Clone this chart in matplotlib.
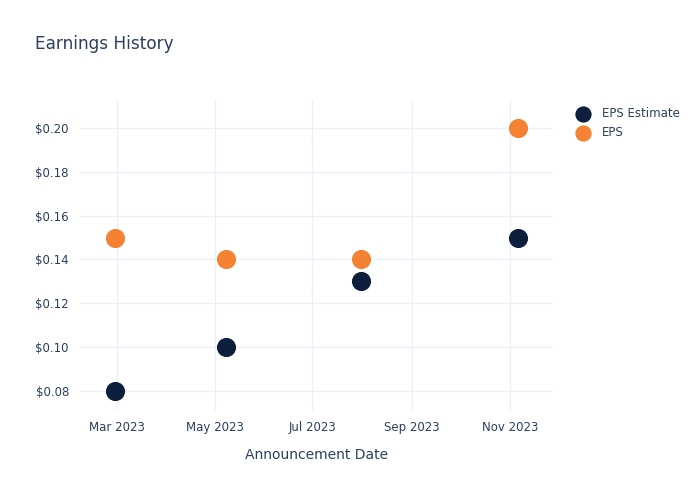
import matplotlib
matplotlib.use("Agg")
import matplotlib.pyplot as plt
from matplotlib.ticker import FuncFormatter
import datetime as dt

dates = ["2023-02-28", "2023-05-08", "2023-07-31", "2023-11-06"]
eps_estimate = [0.08, 0.10, 0.13, 0.15]
eps_actual = [0.15, 0.14, 0.14, 0.20]
tick_dates = ["2023-03-01", "2023-05-01", "2023-07-01", "2023-09-01", "2023-11-01"]
tick_labels = ["Mar 2023", "May 2023", "Jul 2023", "Sep 2023", "Nov 2023"]
y_ticks = [0.08, 0.10, 0.12, 0.14, 0.16, 0.18, 0.20]

txt = "#2a3f5f"
grid = "#ebf0f8"
c_est = "#0d1f3d"
c_eps = "#f58233"

plt.rcParams['font.family'] = ['DejaVu Sans']
fig = plt.figure(figsize=(7, 5), dpi=100)
ax = fig.add_axes([80/700, 1-410/500, (553-80)/700, 310/500])

x = [dt.datetime.strptime(d, "%Y-%m-%d") for d in dates]
ax.scatter(x, eps_estimate, s=190, color=c_est, zorder=3, label="EPS Estimate", linewidths=0)
ax.scatter(x, eps_actual, s=190, color=c_eps, zorder=3, label="EPS", linewidths=0)

ax.set_xlim(dt.datetime(2023, 2, 6), dt.datetime(2023, 11, 28))
ax.set_ylim(0.0713, 0.2128)
ax.set_xticks([dt.datetime.strptime(d, "%Y-%m-%d") for d in tick_dates])
ax.set_xticklabels(tick_labels)
ax.set_yticks(y_ticks)
ax.yaxis.set_major_formatter(FuncFormatter(lambda v, p: f"${v:.2f}"))
ax.tick_params(axis='both', length=0, labelsize=8.5, colors=txt, pad=8)
ax.grid(True, color=grid, linewidth=1)
ax.set_axisbelow(True)
for s in ax.spines.values():
    s.set_visible(False)

ax.set_xlabel("Announcement Date", fontsize=10, color=txt, labelpad=10)
fig.text(35/700, 1-44/500, "Earnings History", fontsize=12.2, color=txt, va='center', ha='left')

leg = ax.legend(loc='upper left', bbox_to_anchor=(571/700, 1-107/500), bbox_transform=fig.transFigure,
                frameon=False, fontsize=8.5, labelcolor=txt, handletextpad=0.6,
                borderaxespad=0, borderpad=0, labelspacing=0.5, markerscale=0.85)

fig.savefig("out.png", dpi=100, facecolor="white")
